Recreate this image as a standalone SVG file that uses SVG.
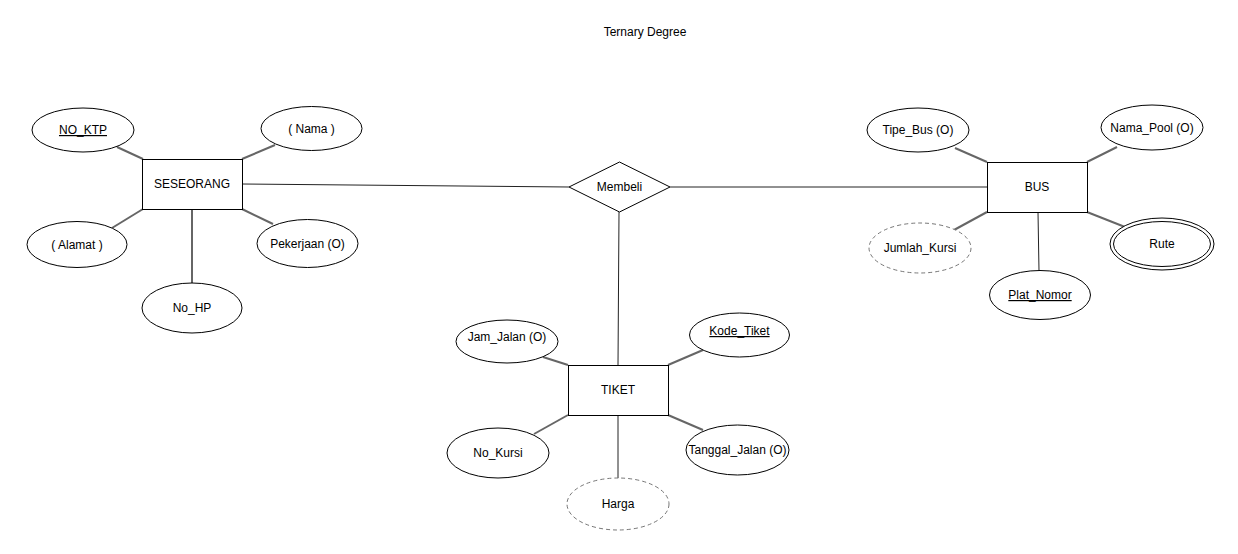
<svg xmlns="http://www.w3.org/2000/svg" width="1238" height="554" viewBox="0 0 1238 554">
<style>
text{font-family:"Liberation Sans",Arial,sans-serif;font-size:12px;fill:#000;text-anchor:middle}
.ent{fill:#fff;stroke:#000;stroke-width:1}
.att{fill:#fff;stroke:#000;stroke-width:1}
.der{fill:#fff;stroke:#777;stroke-width:1;stroke-dasharray:4 3}
.a{stroke:#666;stroke-width:2;fill:none}
.r{stroke:#222;stroke-width:1;fill:none}
.u{text-decoration:underline}
</style>
<rect width="1238" height="554" fill="#fff"/>
<text x="645" y="36">Ternary Degree</text>
<g id="connectors">
<line class="r" x1="242" y1="184" x2="569" y2="187"/>
<line class="r" x1="670" y1="187" x2="987" y2="187"/>
<line class="r" x1="619" y1="212" x2="618" y2="365"/>
<line class="a" x1="117" y1="147" x2="143" y2="159"/>
<line class="a" x1="242" y1="159" x2="275" y2="145"/>
<line class="a" x1="143" y1="209" x2="112" y2="228"/>
<line class="a" x1="242" y1="209" x2="273" y2="224"/>
<line class="a" x1="192" y1="209" x2="192" y2="283"/>
<line class="a" x1="955" y1="148" x2="987" y2="162"/>
<line class="a" x1="1087" y1="162" x2="1117" y2="147"/>
<line class="a" x1="987" y1="212" x2="954" y2="230"/>
<line class="a" x1="1087" y1="212" x2="1125" y2="227"/>
<line class="r" x1="1038" y1="212" x2="1039" y2="271"/>
<line class="a" x1="543" y1="357" x2="568" y2="365"/>
<line class="a" x1="668" y1="365" x2="703" y2="350"/>
<line class="a" x1="568" y1="415" x2="534" y2="434"/>
<line class="a" x1="668" y1="415" x2="703" y2="430"/>
<line class="r" x1="618" y1="415" x2="618" y2="478"/>
</g>
<g id="seseorang"><rect class="ent" x="142.5" y="159.5" width="100" height="50"/><text x="192" y="188">SESEORANG</text></g>
<g id="membeli"><polygon class="ent" points="569,187 619.5,162 670,187 619.5,212"/><text x="619.5" y="191">Membeli</text></g>
<g id="bus"><rect class="ent" x="987.5" y="162.5" width="100" height="50"/><text x="1037" y="191">BUS</text></g>
<g id="tiket"><rect class="ent" x="568.5" y="365.5" width="100" height="50"/><text x="618" y="394">TIKET</text></g>
<g id="no_ktp"><ellipse class="att" cx="83" cy="130" rx="51" ry="22"/><text class="u" x="83" y="134">NO_KTP</text></g>
<g id="nama"><ellipse class="att" cx="311.5" cy="128.5" rx="50.5" ry="22"/><text x="311.5" y="132.5">( Nama )</text></g>
<g id="alamat"><ellipse class="att" cx="77" cy="244.5" rx="50" ry="23"/><text x="77" y="248.5">( Alamat )</text></g>
<g id="pekerjaan"><ellipse class="att" cx="307.5" cy="243.5" rx="50.5" ry="24"/><text x="307.5" y="247.5">Pekerjaan (O)</text></g>
<g id="no_hp"><ellipse class="att" cx="192" cy="308" rx="50" ry="25"/><text x="192" y="312">No_HP</text></g>
<g id="tipe_bus"><ellipse class="att" cx="918" cy="130" rx="51" ry="22"/><text x="918" y="134">Tipe_Bus (O)</text></g>
<g id="nama_pool"><ellipse class="att" cx="1152" cy="127.5" rx="51" ry="22.5"/><text x="1152" y="131.5">Nama_Pool (O)</text></g>
<g id="jumlah_kursi"><ellipse class="der" cx="920" cy="248" rx="51" ry="25"/><text x="920" y="252">Jumlah_Kursi</text></g>
<g id="rute"><ellipse class="att" cx="1162" cy="244" rx="52" ry="26"/><ellipse class="att" cx="1162" cy="244" rx="48.5" ry="22.5"/><text x="1162" y="248">Rute</text></g>
<g id="plat_nomor"><ellipse class="att" cx="1040" cy="295" rx="50.5" ry="24.5"/><text class="u" x="1040" y="299">Plat_Nomor</text></g>
<g id="jam_jalan"><ellipse class="att" cx="507" cy="341.5" rx="51" ry="21.5"/><text x="507" y="341">Jam_Jalan (O)</text></g>
<g id="kode_tiket"><ellipse class="att" cx="739.5" cy="335" rx="50" ry="22"/><text class="u" x="739.5" y="335">Kode_Tiket</text></g>
<g id="no_kursi"><ellipse class="att" cx="498" cy="453" rx="51" ry="25"/><text x="498" y="457">No_Kursi</text></g>
<g id="tanggal_jalan"><ellipse class="att" cx="737.5" cy="450" rx="51.5" ry="25"/><text x="737.5" y="454">Tanggal_Jalan (O)</text></g>
<g id="harga"><ellipse class="der" cx="618" cy="504" rx="51" ry="26"/><text x="618" y="508">Harga</text></g>
</svg>
